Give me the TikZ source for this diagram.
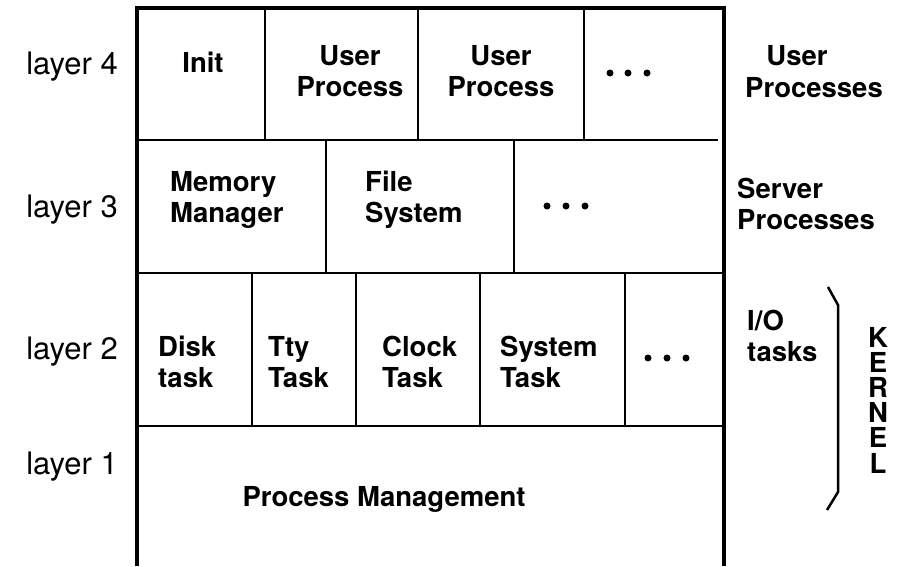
\documentclass[tikz,border=0pt]{standalone}
\usepackage{fontspec}
\setmainfont{TeX Gyre Heros}
\begin{document}
\begin{tikzpicture}[x=1pt,y=-1pt,
  frame/.style={line width=3.5pt},
  grid/.style={line width=2.7pt},
  lbl/.style={font=\fontsize{27.5}{31}\selectfont\bfseries, inner sep=0pt},
  lyr/.style={font=\fontsize{31}{34}\selectfont, inner sep=0pt, anchor=base},
  dotmark/.style={circle, fill=black, inner sep=0pt, minimum size=7pt}]
\useasboundingbox (0,0) rectangle (909,566);
% frame
\draw[frame] (137,566) -- (137,8) -- (724,8) -- (724,566);
% row separators
\draw[grid] (137,140) -- (718,140);
\draw[grid] (137,273) -- (724,273);
\draw[grid] (137,426) -- (724,426);
% layer 4 dividers
\draw[grid] (265,8) -- (265,140);
\draw[grid] (418,8) -- (418,140);
\draw[grid] (584,8) -- (584,140);
% layer 3 dividers
\draw[grid] (326,140) -- (326,273);
\draw[grid] (514,140) -- (514,273);
% layer 2 dividers
\draw[grid] (252,273) -- (252,426);
\draw[grid] (356,273) -- (356,426);
\draw[grid] (480,273) -- (480,426);
\draw[grid] (625,273) -- (625,426);
% layer labels
\node[lyr] (l4) at (72,74) {layer 4};
\node[lyr] (l3) at (72,217) {layer 3};
\node[lyr] (l2) at (72,359) {layer 2};
\node[lyr] (l1) at (72,474) {layer 1};
% layer 4 cells
\node[lbl] (init) at (203,62) {Init};
\node[lbl, align=center] (up1) at (350,71) {User\\Process};
\node[lbl, align=center] (up2) at (501,71) {User\\Process};
\node[dotmark] (d4a) at (610,73) {};
\node[dotmark] (d4b) at (628,73) {};
\node[dotmark] (d4c) at (647,73) {};
% layer 3 cells
\node[lbl, align=left, anchor=west] (mm) at (170,200) {Memory\\Manager};
\node[lbl, align=left, anchor=west] (fs) at (365,200) {File\\System};
\node[dotmark] (d3a) at (547,206) {};
\node[dotmark] (d3b) at (566,206) {};
\node[dotmark] (d3c) at (585,206) {};
% layer 2 cells
\node[lbl, align=left, anchor=west] (disk) at (158,362) {Disk\\task};
\node[lbl, align=left, anchor=west] (tty) at (268,362) {Tty\\Task};
\node[lbl, align=left, anchor=west] (clock) at (382,362) {Clock\\Task};
\node[lbl, align=left, anchor=west] (sys) at (500,362) {System\\Task};
\node[dotmark] (d2a) at (648,358) {};
\node[dotmark] (d2b) at (667,358) {};
\node[dotmark] (d2c) at (686,358) {};
% layer 1
\node[lbl] (pm) at (384,499) {Process Management};
% right side labels
\node[lbl, anchor=base] (uu) at (797,65) {User};
\node[lbl, anchor=base] (upr) at (814,97) {Processes};
\node[lbl, align=left, anchor=west] (sp) at (737,204) {Server\\Processes};
\node[lbl, align=left, anchor=west] (io) at (747,336) {I/O\\tasks};
% brace
\draw[line width=2.5pt] (828,287) -- (838,305) -- (838,492) -- (827,510);
\node[lbl, align=center, font=\fontsize{27.5}{25.2}\selectfont\bfseries] (kernel) at (878,400) {K\\E\\R\\N\\E\\L};
\end{tikzpicture}
\end{document}
